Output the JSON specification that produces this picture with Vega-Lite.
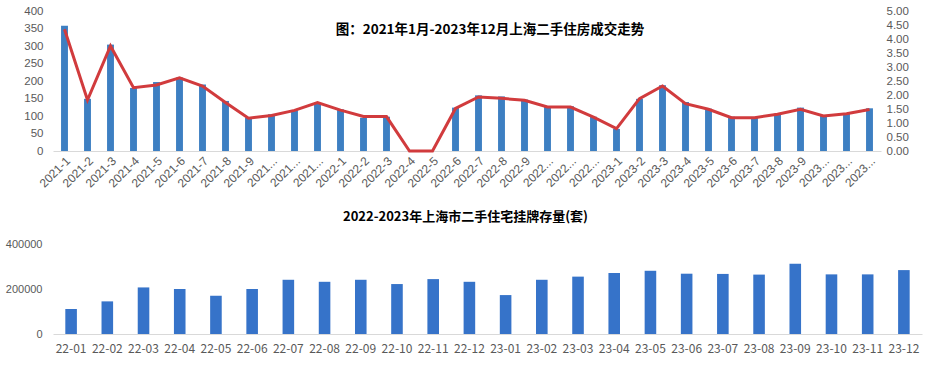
{
  "$schema": "https://vega.github.io/schema/vega-lite/v6.json",
  "padding": {"left": 5, "top": 5, "right": 10, "bottom": 5},
  "spacing": 21,
  "background": "white",
  "config": {
    "view": {"stroke": null},
    "font": "Liberation Sans",
    "axis": {"labelColor": "#595959", "labelFontSize": 11, "grid": false, "ticks": false, "domain": false, "title": null}
  },
  "datasets": {
    "monthly": [
      {"month": "2021-1", "deals": 358, "index": 4.35},
      {"month": "2021-2", "deals": 149, "index": 1.82},
      {"month": "2021-3", "deals": 304, "index": 3.75},
      {"month": "2021-4", "deals": 180, "index": 2.26},
      {"month": "2021-5", "deals": 197, "index": 2.36},
      {"month": "2021-6", "deals": 210, "index": 2.61},
      {"month": "2021-7", "deals": 190, "index": 2.32},
      {"month": "2021-8", "deals": 143, "index": 1.73},
      {"month": "2021-9", "deals": 95, "index": 1.17},
      {"month": "2021-10", "deals": 105, "index": 1.27},
      {"month": "2021-11", "deals": 116, "index": 1.45},
      {"month": "2021-12", "deals": 138, "index": 1.73},
      {"month": "2022-1", "deals": 119, "index": 1.46},
      {"month": "2022-2", "deals": 95, "index": 1.23},
      {"month": "2022-3", "deals": 98, "index": 1.23},
      {"month": "2022-4", "deals": 0, "index": 0},
      {"month": "2022-5", "deals": 0, "index": 0},
      {"month": "2022-6", "deals": 124, "index": 1.52},
      {"month": "2022-7", "deals": 159, "index": 1.93},
      {"month": "2022-8", "deals": 156, "index": 1.88},
      {"month": "2022-9", "deals": 147, "index": 1.81},
      {"month": "2022-10", "deals": 128, "index": 1.57},
      {"month": "2022-11", "deals": 128, "index": 1.57},
      {"month": "2022-12", "deals": 98, "index": 1.21},
      {"month": "2023-1", "deals": 63, "index": 0.80},
      {"month": "2023-2", "deals": 149, "index": 1.87},
      {"month": "2023-3", "deals": 188, "index": 2.32},
      {"month": "2023-4", "deals": 140, "index": 1.69},
      {"month": "2023-5", "deals": 121, "index": 1.49},
      {"month": "2023-6", "deals": 98, "index": 1.19},
      {"month": "2023-7", "deals": 97, "index": 1.19},
      {"month": "2023-8", "deals": 107, "index": 1.31},
      {"month": "2023-9", "deals": 124, "index": 1.49},
      {"month": "2023-10", "deals": 101, "index": 1.25},
      {"month": "2023-11", "deals": 108, "index": 1.33},
      {"month": "2023-12", "deals": 122, "index": 1.48}
    ],
    "stock": [
      {"month": "22-01", "listings": 111000},
      {"month": "22-02", "listings": 145000},
      {"month": "22-03", "listings": 207000},
      {"month": "22-04", "listings": 200000},
      {"month": "22-05", "listings": 170000},
      {"month": "22-06", "listings": 200000},
      {"month": "22-07", "listings": 241000},
      {"month": "22-08", "listings": 232000},
      {"month": "22-09", "listings": 241000},
      {"month": "22-10", "listings": 222000},
      {"month": "22-11", "listings": 244000},
      {"month": "22-12", "listings": 232000},
      {"month": "23-01", "listings": 173000},
      {"month": "23-02", "listings": 241000},
      {"month": "23-03", "listings": 255000},
      {"month": "23-04", "listings": 271000},
      {"month": "23-05", "listings": 281000},
      {"month": "23-06", "listings": 268000},
      {"month": "23-07", "listings": 267000},
      {"month": "23-08", "listings": 264000},
      {"month": "23-09", "listings": 312000},
      {"month": "23-10", "listings": 265000},
      {"month": "23-11", "listings": 265000},
      {"month": "23-12", "listings": 284000}
    ]
  },
  "vconcat": [
    {
      "width": 828,
      "height": 140,
      "data": {"name": "monthly"},
      "title": {
        "text": "图：2021年1月-2023年12月上海二手住房成交走势",
        "font": "Noto Sans CJK SC",
        "fontSize": 13.5,
        "fontWeight": "bold",
        "color": "#000000",
        "frame": "group",
        "anchor": "middle",
        "baseline": "middle",
        "offset": -38,
        "dx": 23
      },
      "encoding": {
        "x": {
          "field": "month",
          "type": "ordinal",
          "sort": null,
          "scale": {"paddingInner": 0.7, "paddingOuter": 0.35},
          "axis": {
            "labelAngle": -45,
            "labelFontSize": 12,
            "domain": true,
            "domainColor": "#d9d9d9",
            "labelPadding": 4,
            "labelExpr": "length(datum.label) > 6 ? slice(datum.label, 0, 4) + '...' : datum.label"
          }
        }
      },
      "layer": [
        {
          "mark": {"type": "bar", "color": "#3d7fc2"},
          "encoding": {
            "y": {
              "field": "deals",
              "type": "quantitative",
              "scale": {"domain": [0, 400], "nice": false},
              "axis": {"values": [0, 50, 100, 150, 200, 250, 300, 350, 400], "labelPadding": 10, "labelFontSize": 11.5, "orient": "left"}
            }
          }
        },
        {
          "mark": {"type": "line", "color": "#d13b3d", "strokeWidth": 3},
          "encoding": {
            "y": {
              "field": "index",
              "type": "quantitative",
              "scale": {"domain": [0, 5], "nice": false},
              "axis": {"values": [0, 0.5, 1, 1.5, 2, 2.5, 3, 3.5, 4, 4.5, 5], "format": ".2f", "orient": "right", "labelPadding": 5, "labelFontSize": 11.5}
            }
          }
        }
      ],
      "resolve": {"scale": {"y": "independent"}}
    },
    {
      "width": 869,
      "height": 90,
      "data": {"name": "stock"},
      "title": {
        "text": "2022-2023年上海市二手住宅挂牌存量(套)",
        "font": "Noto Sans CJK SC",
        "fontSize": 13,
        "fontWeight": "bold",
        "color": "#000000",
        "frame": "group",
        "anchor": "middle",
        "offset": 14,
        "dx": -22
      },
      "mark": {"type": "bar", "color": "#3673c9"},
      "encoding": {
        "x": {
          "field": "month",
          "type": "ordinal",
          "sort": null,
          "scale": {"paddingInner": 0.68, "paddingOuter": 0.34},
          "axis": {"labelAngle": 0, "domain": true, "domainColor": "#d9d9d9", "labelPadding": 9, "labelFontSize": 12, "labelFont": "Noto Sans CJK SC"}
        },
        "y": {
          "field": "listings",
          "type": "quantitative",
          "scale": {"domain": [0, 400000], "nice": false},
          "axis": {"values": [0, 200000, 400000], "format": "d", "labelPadding": 11}
        }
      }
    }
  ]
}
